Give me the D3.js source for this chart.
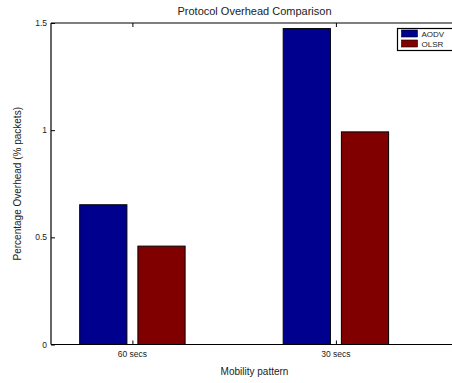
<!DOCTYPE html>
<html>
<head>
<meta charset="utf-8">
<script src="https://cdn.jsdelivr.net/npm/d3@7/dist/d3.min.js"></script>
<style>
  html, body { margin: 0; padding: 0; background: #fff; }
  svg { display: block; font-family: "Liberation Sans", Arial, Helvetica, sans-serif; }
</style>
</head>
<body>
<script>
// Protocol overhead per mobility pattern
const categories = ["60 secs", "30 secs"];
const seriesNames = ["AODV", "OLSR"];
const aodvValues = [0.652, 1.474];
const olsrValues = [0.459, 0.992];
const yTicks = [0, 0.5, 1, 1.5];
const yTickLabels = ["0", "0.5", "1", "1.5"];
const seriesColors = ["#00008f", "#800000"];

const W = 452, H = 383;
const plot = { left: 51, right: 458, top: 23, bottom: 344.5 };

const svg = d3.select("body").append("svg")
  .attr("width", W).attr("height", H);

// bar groups sit at integer positions 1..n
const x = d3.scaleLinear().domain([0.6, 2.6]).range([plot.left, plot.right]);
const y = d3.scaleLinear().domain([0, 1.5]).range([plot.bottom, plot.top]);

const barWidth = 0.232;   // in category units
const offsets = [-0.143, 0.143];
const series = [aodvValues, olsrValues];

// bars
series.forEach((vals, si) => {
  svg.append("g").selectAll("rect")
    .data(vals)
    .join("rect")
    .attr("x", (d, i) => x(i + 1 + offsets[si] - barWidth / 2))
    .attr("width", x(barWidth) - x(0))
    .attr("y", d => y(d))
    .attr("height", d => y(0) - y(d))
    .attr("fill", seriesColors[si])
    .attr("stroke", "#000")
    .attr("stroke-width", 1);
});

// axes (ticks point inward)
const xPos = categories.map((c, i) => i + 1);
const bottomAxis = d3.axisTop(x).tickValues(xPos).tickSize(4).tickFormat("");
const topAxis = d3.axisBottom(x).tickValues(xPos).tickSize(4).tickFormat("");
const leftAxis = d3.axisRight(y).tickValues(yTicks).tickSize(4).tickFormat("");

function styleAxis(g) {
  g.select(".domain").remove();
  g.selectAll(".tick line").attr("stroke", "#000").attr("stroke-width", 1);
}
svg.append("g").attr("transform", `translate(0,${plot.bottom})`).call(bottomAxis).call(styleAxis);
svg.append("g").attr("transform", `translate(0,${plot.top})`).call(topAxis).call(styleAxis);
svg.append("g").attr("transform", `translate(${plot.left},0)`).call(leftAxis).call(styleAxis);

// frame lines
svg.append("line").attr("x1", plot.left).attr("x2", plot.right).attr("y1", plot.bottom).attr("y2", plot.bottom)
  .attr("stroke", "#000").attr("stroke-width", 1.2);
svg.append("line").attr("x1", plot.left).attr("x2", plot.right).attr("y1", plot.top).attr("y2", plot.top)
  .attr("stroke", "#000").attr("stroke-width", 1.2);
svg.append("line").attr("x1", plot.left).attr("x2", plot.left).attr("y1", plot.top).attr("y2", plot.bottom)
  .attr("stroke", "#000").attr("stroke-width", 1.2);

// tick labels
svg.append("g").selectAll("text")
  .data(yTicks)
  .join("text")
  .attr("x", plot.left - 4)
  .attr("y", d => y(d) + 3)
  .attr("text-anchor", "end")
  .attr("font-size", 8.5)
  .attr("fill", "#222")
  .text((d, i) => yTickLabels[i]);

svg.append("g").selectAll("text")
  .data(categories)
  .join("text")
  .attr("x", (d, i) => x(i + 1))
  .attr("y", plot.bottom + 12)
  .attr("text-anchor", "middle")
  .attr("font-size", 8.5)
  .attr("fill", "#222")
  .text(d => d);

// title and axis labels
svg.append("text")
  .attr("x", (plot.left + plot.right) / 2).attr("y", 15)
  .attr("text-anchor", "middle").attr("font-size", 11).attr("fill", "#222")
  .text("Protocol Overhead Comparison");

svg.append("text")
  .attr("x", (plot.left + plot.right) / 2).attr("y", 375)
  .attr("text-anchor", "middle").attr("font-size", 10).attr("fill", "#222")
  .text("Mobility pattern");

svg.append("text")
  .attr("transform", `translate(21,${(plot.top + plot.bottom) / 2}) rotate(-90)`)
  .attr("text-anchor", "middle").attr("font-size", 10).attr("fill", "#222")
  .text("Percentage Overhead (% packets)");

// legend
const legend = svg.append("g").attr("transform", "translate(397.5,28.5)");
legend.append("rect")
  .attr("width", 60).attr("height", 22)
  .attr("fill", "#fff").attr("stroke", "#000").attr("stroke-width", 1.2);
seriesNames.forEach((name, i) => {
  legend.append("rect")
    .attr("x", 4).attr("y", 1.5 + i * 10)
    .attr("width", 16).attr("height", 7)
    .attr("fill", seriesColors[i]).attr("stroke", "#000").attr("stroke-width", 0.6);
  legend.append("text")
    .attr("x", 24).attr("y", 8.5 + i * 10)
    .attr("font-size", 8).attr("fill", "#222")
    .text(name);
});
</script>
</body>
</html>
